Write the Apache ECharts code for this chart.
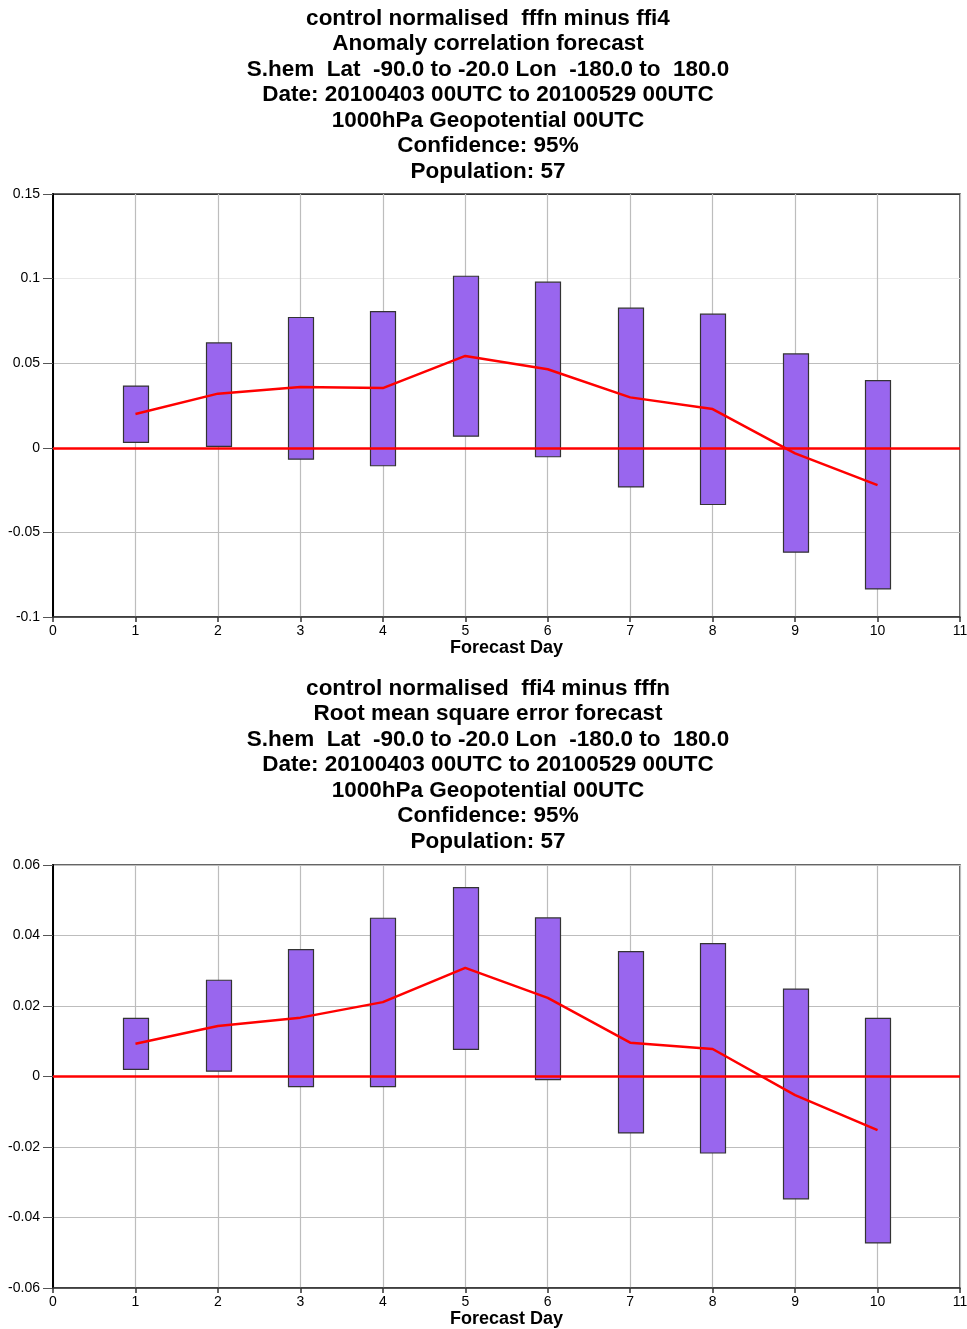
<!DOCTYPE html>
<html>
<head>
<meta charset="utf-8">
<title>control normalised scores</title>
<script src="https://cdn.jsdelivr.net/npm/echarts@6/dist/echarts.min.js"></script>
<style>
  html, body { margin: 0; padding: 0; background: #ffffff; overflow: hidden; }
  #chart { width: 967px; height: 1329px; }
</style>
</head>
<body>
<div id="chart"></div>
<script>
// Forecast days
const days = [1, 2, 3, 4, 5, 6, 7, 8, 9, 10];

// Anomaly correlation: fffn minus ffi4 (mean and 95% confidence bounds)
const acMean = [0.020, 0.032, 0.036, 0.0353, 0.0543, 0.0464, 0.0298, 0.0229, -0.0033, -0.0221];
const acHigh = [0.0365, 0.062, 0.077, 0.0805, 0.1014, 0.0979, 0.0825, 0.079, 0.0555, 0.0397];
const acLow  = [0.0032, 0.0008, -0.0067, -0.0106, 0.0069, -0.0053, -0.0231, -0.0335, -0.0617, -0.0834];

// Root mean square error: ffi4 minus fffn (mean and 95% confidence bounds)
const rmsMean = [0.0093, 0.0143, 0.0167, 0.0211, 0.0308, 0.0223, 0.0096, 0.0078, -0.0053, -0.0152];
const rmsHigh = [0.0165, 0.0273, 0.036, 0.0449, 0.0536, 0.045, 0.0354, 0.0377, 0.0248, 0.0165];
const rmsLow  = [0.002, 0.0015, -0.0029, -0.0029, 0.0077, -0.0009, -0.016, -0.0217, -0.0347, -0.0472];

// Heading lines for each panel
const acTitle = [
  'control normalised  fffn minus ffi4',
  'Anomaly correlation forecast',
  'S.hem  Lat  -90.0 to -20.0 Lon  -180.0 to  180.0',
  'Date: 20100403 00UTC to 20100529 00UTC',
  '1000hPa Geopotential 00UTC',
  'Confidence: 95%',
  'Population: 57'
];
const rmsTitle = [
  'control normalised  ffi4 minus fffn',
  'Root mean square error forecast',
  'S.hem  Lat  -90.0 to -20.0 Lon  -180.0 to  180.0',
  'Date: 20100403 00UTC to 20100529 00UTC',
  '1000hPa Geopotential 00UTC',
  'Confidence: 95%',
  'Population: 57'
];
const xName = 'Forecast Day';

const FONT = "'Liberation Sans', Arial, Helvetica, sans-serif";

function zip3(a, b, c) { return a.map((v, i) => [v, b[i], c[i]]); }
function zip2(a, b) { return a.map((v, i) => [v, b[i]]); }

// Confidence box for one forecast day
function renderBox(params, api) {
  const x = api.value(0);
  const lo = api.value(1);
  const hi = api.value(2);
  const pTop = api.coord([x, hi]);
  const pBot = api.coord([x, lo]);
  const w = api.size([0.3, 0])[0];
  return {
    type: 'rect',
    shape: { x: Math.round(pTop[0] - w / 2) + 0.5, y: pTop[1], width: Math.round(w), height: pBot[1] - pTop[1] },
    style: { fill: '#9966ee', stroke: '#333333', lineWidth: 1.2 }
  };
}

function xAxisFor(gridIndex) {
  return {
    gridIndex: gridIndex,
    type: 'value',
    min: 0, max: 11, interval: 1,
    name: xName,
    nameLocation: 'middle',
    nameGap: 22,
    nameTextStyle: { fontFamily: FONT, fontSize: 18, fontWeight: 'bold', color: '#000' },
    axisLine: { onZero: false, lineStyle: { color: '#333', width: 1.5 } },
    axisTick: { show: true, length: 5, lineStyle: { color: '#333', width: 1.5 } },
    axisLabel: { fontFamily: FONT, fontSize: 14, color: '#000', margin: 7 },
    splitLine: { show: true, lineStyle: { color: '#bdbdbd', width: 1.2 } }
  };
}

function yAxisFor(gridIndex, min, max, interval, splitColors) {
  return {
    gridIndex: gridIndex,
    type: 'value',
    min: min, max: max, interval: interval,
    axisLine: { show: true, onZero: false, lineStyle: { color: '#000', width: 2 } },
    axisTick: { show: true, length: 10, lineStyle: { color: '#555', width: 1 } },
    axisLabel: { fontFamily: FONT, fontSize: 14, color: '#000', margin: 13 },
    splitLine: { show: true, lineStyle: { color: splitColors, width: 1.2 } }
  };
}

function panelSeries(idx, low, high, mean) {
  return [
    {
      type: 'custom',
      xAxisIndex: idx, yAxisIndex: idx,
      renderItem: renderBox,
      data: zip3(days, low, high),
      z: 2,
      silent: true
    },
    {
      type: 'line',
      xAxisIndex: idx, yAxisIndex: idx,
      data: zip2(days, mean),
      showSymbol: false,
      symbol: 'none',
      lineStyle: { color: '#ff0000', width: 2.5 },
      z: 4,
      silent: true,
      markLine: {
        silent: true,
        symbol: ['none', 'none'],
        label: { show: false },
        lineStyle: { color: '#ff0000', width: 2.5, type: 'solid' },
        data: [{ yAxis: 0 }],
        z: 3
      }
    }
  ];
}

const chart = echarts.init(document.getElementById('chart'), null, { renderer: 'canvas' });

const titleStyle = { font: 'bold 22.5px ' + FONT, fill: '#000', textAlign: 'center', lineHeight: 25.5 };

const gridBase = {
  left: 53, width: 907, height: 423,
  outerBoundsMode: 'none',
  containLabel: false,
  show: true, borderColor: '#333', borderWidth: 1.5, backgroundColor: 'transparent'
};

chart.setOption({
  animation: false,
  backgroundColor: '#ffffff',
  grid: [
    Object.assign({ top: 194 }, gridBase),
    Object.assign({ top: 865 }, gridBase)
  ],
  xAxis: [xAxisFor(0), xAxisFor(1)],
  yAxis: [
    yAxisFor(0, -0.1, 0.15, 0.05, ['#bdbdbd', '#bdbdbd', '#bdbdbd', '#bdbdbd', '#e8e8e8', '#333']),
    yAxisFor(1, -0.06, 0.06, 0.02, ['#bdbdbd'])
  ],
  graphic: [
    { type: 'text', left: 488 - 260, top: 6, silent: true,
      style: Object.assign({ text: acTitle.join('\n'), width: 520 }, titleStyle) },
    { type: 'text', left: 488 - 260, top: 676, silent: true,
      style: Object.assign({ text: rmsTitle.join('\n'), width: 520 }, titleStyle) }
  ],
  series: [].concat(
    panelSeries(0, acLow, acHigh, acMean),
    panelSeries(1, rmsLow, rmsHigh, rmsMean)
  )
});
</script>
</body>
</html>
